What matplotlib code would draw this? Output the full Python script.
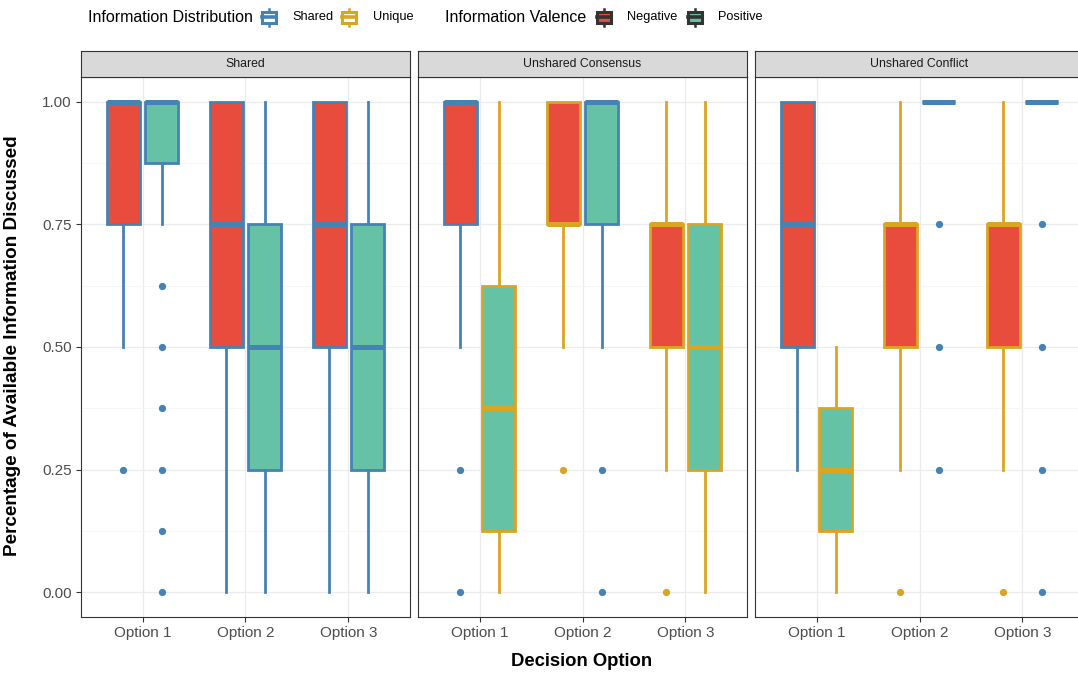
import matplotlib
matplotlib.use("Agg")
import matplotlib.pyplot as plt
from matplotlib.patches import Rectangle
from matplotlib.lines import Line2D

plt.rcParams['font.family'] = ['Liberation Sans', 'DejaVu Sans']

# facets, x categories and groups
panels = ["Shared", "Unshared Consensus", "Unshared Conflict"]
options = ["Option 1", "Option 2", "Option 3"]
valences = ["Negative", "Positive"]
distributions = ["Shared", "Unique"]

# one entry per box: panel index, option number, valence, distribution
box_panel = [0] * 6 + [1] * 6 + [2] * 6
box_option = [1, 1, 2, 2, 3, 3] * 3
box_valence = ["Negative", "Positive"] * 9
box_dist = ["Shared", "Shared", "Shared", "Shared", "Shared", "Shared",
            "Shared", "Unique", "Unique", "Shared", "Unique", "Unique",
            "Shared", "Unique", "Unique", "Shared", "Unique", "Shared"]

# five-number summaries and outliers
whis_lo = [0.5, 0.75, 0.0, 0.0, 0.0, 0.0,
           0.5, 0.0, 0.5, 0.5, 0.25, 0.0,
           0.25, 0.0, 0.25, 1.0, 0.25, 1.0]
q1 = [0.75, 0.875, 0.5, 0.25, 0.5, 0.25,
      0.75, 0.125, 0.75, 0.75, 0.5, 0.25,
      0.5, 0.125, 0.5, 1.0, 0.5, 1.0]
median = [1.0, 1.0, 0.75, 0.5, 0.75, 0.5,
          1.0, 0.375, 0.75, 1.0, 0.75, 0.5,
          0.75, 0.25, 0.75, 1.0, 0.75, 1.0]
q3 = [1.0, 1.0, 1.0, 0.75, 1.0, 0.75,
      1.0, 0.625, 1.0, 1.0, 0.75, 0.75,
      1.0, 0.375, 0.75, 1.0, 0.75, 1.0]
whis_hi = [1.0, 1.0, 1.0, 1.0, 1.0, 1.0,
           1.0, 1.0, 1.0, 1.0, 1.0, 1.0,
           1.0, 0.5, 1.0, 1.0, 1.0, 1.0]
outliers = [[0.25], [0.625, 0.5, 0.375, 0.25, 0.125, 0.0], [], [], [], [],
            [0.25, 0.0], [], [0.25], [0.25, 0.0], [0.0], [],
            [], [], [0.0], [0.75, 0.5, 0.25], [0.0], [0.75, 0.5, 0.25, 0.0]]

fill_col = {"Negative": "#E74C3C", "Positive": "#66C2A5"}
edge_col = {"Shared": "#4682B4", "Unique": "#DAA520"}
dodge = {"Negative": -0.187, "Positive": 0.187}

W, H = 1078, 675
fig = plt.figure(figsize=(W / 100, H / 100), dpi=100)

def fig_rect(x0, y0, x1, y1):
    # pixel box (top-left origin) -> figure fraction rect
    return [x0 / W, 1 - y1 / H, (x1 - x0) / W, (y1 - y0) / H]

panel_left = [81, 418, 755]
panel_w = 329
top, bottom, strip_top = 77, 617, 51
border = "#333333"

for p, name in enumerate(panels):
    x0 = panel_left[p]
    ax = fig.add_axes(fig_rect(x0, top, x0 + panel_w, bottom))
    ax.set_xlim(0.4, 3.6)
    ax.set_ylim(-0.05, 1.05)
    ax.set_yticks([0, 0.25, 0.5, 0.75, 1.0])
    ax.set_yticks([0.125, 0.375, 0.625, 0.875], minor=True)
    ax.set_xticks([1, 2, 3])
    ax.set_xticklabels(options)
    ax.grid(True, which="major", color="#EBEBEB", lw=0.9, zorder=0)
    ax.grid(True, which="minor", axis="y", color="#F5F5F5", lw=0.6, zorder=0)
    ax.set_axisbelow(True)
    ax.tick_params(which="major", length=3.5, width=0.8, color=border,
                   labelsize=11, labelcolor="#4D4D4D", pad=3)
    ax.tick_params(axis="x", which="major", pad=2.8)
    ax.tick_params(which="minor", length=0)
    if p == 0:
        ax.set_yticklabels(["0.00", "0.25", "0.50", "0.75", "1.00"])
    else:
        ax.tick_params(axis="y", which="major", left=False, labelleft=False)
    for s in ax.spines.values():
        s.set_color(border)
        s.set_linewidth(0.8)

    for i in range(len(box_panel)):
        if box_panel[i] != p:
            continue
        ec = edge_col[box_dist[i]]
        stats = [dict(whislo=whis_lo[i], q1=q1[i], med=median[i], q3=q3[i],
                      whishi=whis_hi[i], fliers=outliers[i])]
        ax.bxp(stats, positions=[box_option[i] + dodge[box_valence[i]]],
               widths=0.32, patch_artist=True, showcaps=False,
               manage_ticks=False,
               boxprops=dict(facecolor=fill_col[box_valence[i]], edgecolor=ec,
                             linewidth=2.0),
               medianprops=dict(color=ec, linewidth=3.6, solid_capstyle="butt"),
               whiskerprops=dict(color=ec, linewidth=2.0),
               flierprops=dict(marker="o", markersize=4.2, markerfacecolor=ec,
                               markeredgecolor=ec, linestyle="none"))

    # facet strip
    sax = fig.add_axes(fig_rect(x0, strip_top, x0 + panel_w, top))
    sax.set_facecolor("#D9D9D9")
    sax.set_xticks([])
    sax.set_yticks([])
    for s in sax.spines.values():
        s.set_color(border)
        s.set_linewidth(0.8)
    sax.text(0.5, 0.5, name, ha="center", va="center", fontsize=8.8,
             color="#1A1A1A", transform=sax.transAxes)

fig.text(13 / W, 1 - 346 / H, "Percentage of Available Information Discussed",
         rotation=90, ha="center", va="center", fontsize=13.6, fontweight="bold")
fig.text(582 / W, 1 - 661 / H, "Decision Option", ha="center", va="center",
         fontsize=13.3, fontweight="bold")

# legend drawn in pixel coordinates on an overlay
lax = fig.add_axes([0, 0, 1, 1], facecolor="none")
lax.set_xlim(0, W)
lax.set_ylim(H, 0)
lax.axis("off")

def key(xc, yc, face, edge, mid):
    lax.add_line(Line2D([xc, xc], [yc - 8.5, yc + 8.5], color=edge, lw=1.8,
                        zorder=2))
    lax.add_patch(Rectangle((xc - 7, yc - 5.5), 14, 11, facecolor=face,
                            edgecolor=edge, lw=2.2, zorder=3))
    lax.add_line(Line2D([xc - 7, xc + 7], [yc, yc], color=mid, lw=2.6,
                        zorder=4))

ly = 17
lax.text(88, ly, "Information Distribution", ha="left", va="center",
         fontsize=11.5)
key(269, ly, "white", edge_col["Shared"], edge_col["Shared"])
lax.text(292, ly, "Shared", ha="left", va="center", fontsize=9.2)
key(348.5, ly, "white", edge_col["Unique"], edge_col["Unique"])
lax.text(373, ly, "Unique", ha="left", va="center", fontsize=9.2)
lax.text(445, ly, "Information Valence", ha="left", va="center", fontsize=11.5)
key(603.5, ly, fill_col["Negative"], border, border)
lax.text(627, ly, "Negative", ha="left", va="center", fontsize=9.2)
key(694.5, ly, fill_col["Positive"], border, border)
lax.text(718, ly, "Positive", ha="left", va="center", fontsize=9.2)

fig.savefig("out.png", dpi=100)
